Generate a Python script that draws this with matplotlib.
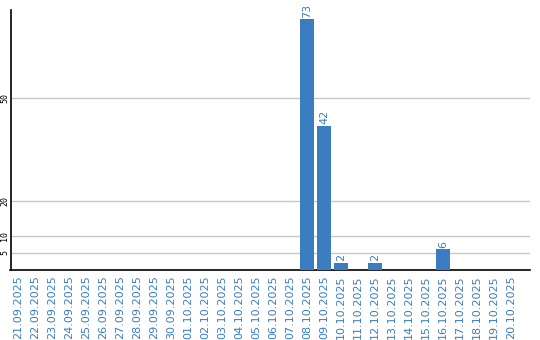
import matplotlib
matplotlib.use('Agg')
import matplotlib.pyplot as plt

dates = ['21.09.2025', '22.09.2025', '23.09.2025', '24.09.2025', '25.09.2025',
         '26.09.2025', '27.09.2025', '28.09.2025', '29.09.2025', '30.09.2025',
         '01.10.2025', '02.10.2025', '03.10.2025', '04.10.2025', '05.10.2025',
         '06.10.2025', '07.10.2025', '08.10.2025', '09.10.2025', '10.10.2025',
         '11.10.2025', '12.10.2025', '13.10.2025', '14.10.2025', '15.10.2025',
         '16.10.2025', '17.10.2025', '18.10.2025', '19.10.2025', '20.10.2025']
counts = [0, 0, 0, 0, 0, 0, 0, 0, 0, 0,
          0, 0, 0, 0, 0, 0, 0, 73, 42, 2,
          0, 2, 0, 0, 0, 6, 0, 0, 0, 0]
yticks = [5, 10, 20, 50]

blue = '#3a7dc1'

fig = plt.figure(figsize=(5.4, 3.4), dpi=100)
ax = fig.add_axes([10.5 / 540, 70 / 340, 519.5 / 540, 260 / 340])

x = list(range(len(dates)))
ax.bar(x, counts, width=0.82, color=blue, zorder=3)

for xi, v in zip(x, counts):
    if v > 0:
        ax.text(xi, v + 0.5, str(v), rotation=90, ha='center', va='bottom',
                color=blue, fontsize=8, zorder=4)

ax.set_xlim(-0.45, 30.1)
ax.set_ylim(0, 75.7)

ax.set_yticks(yticks)
ax.set_yticklabels([str(t) for t in yticks], rotation=90, fontsize=6,
                   va='center', family='DejaVu Sans Mono')
ax.tick_params(axis='y', length=0, pad=1)
ax.grid(axis='y', color='#c8c8c8', lw=1, zorder=0)

ax.set_xticks(x)
ax.set_xticklabels(dates, rotation=90, fontsize=8, color=blue)
ax.tick_params(axis='x', length=0, pad=4)

ax.spines['right'].set_visible(False)
ax.spines['top'].set_visible(False)
ax.spines['left'].set_linewidth(1.2)
ax.spines['bottom'].set_linewidth(1.2)

fig.savefig('out.png', dpi=100)
